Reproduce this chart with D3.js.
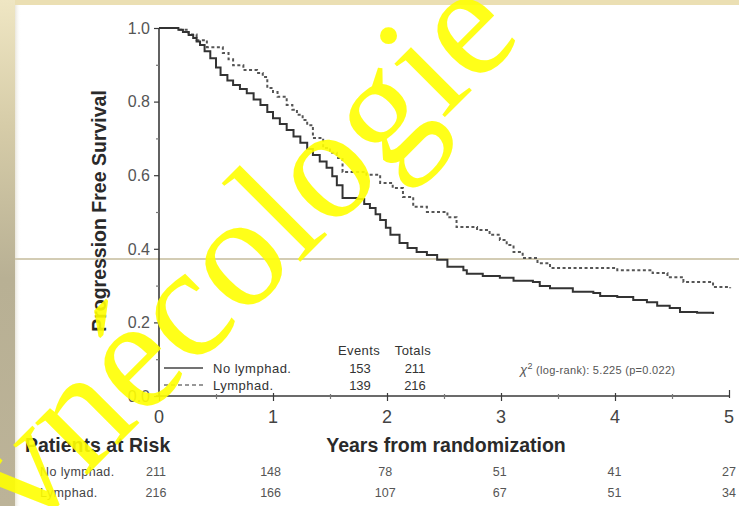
<!DOCTYPE html>
<html>
<head>
<meta charset="utf-8">
<script src="https://cdn.jsdelivr.net/npm/d3@7"></script>
<style>
  html, body { margin: 0; padding: 0; background: #ffffff; }
  svg { display: block; }
  text { font-family: "Liberation Sans", Arial, sans-serif; }
</style>
</head>
<body>
<svg id="chart" width="739" height="506"></svg>
<script>
// ---------- data ----------
const seriesNames = ["No lymphad.", "Lymphad."];
const events = [153, 139];
const totals = [211, 216];

// Kaplan-Meier step points: [years, survival]
const noLymphadTimes = [0, 0.12, 0.17, 0.21, 0.26, 0.30, 0.33, 0.36, 0.40, 0.45, 0.50, 0.54, 0.60, 0.65, 0.71, 0.77, 0.83, 0.89, 0.95, 1.00, 1.06, 1.12, 1.18, 1.24, 1.30, 1.35, 1.41, 1.47, 1.52, 1.56, 1.61, 1.74, 1.80, 1.85, 1.90, 1.94, 1.99, 2.03, 2.11, 2.18, 2.26, 2.35, 2.44, 2.53, 2.67, 2.70, 2.84, 2.99, 3.11, 3.28, 3.34, 3.43, 3.63, 3.81, 3.87, 4.02, 4.16, 4.28, 4.37, 4.48, 4.57, 4.72, 4.86];
const noLymphadSurv  = [1.0, 1.0, 0.995, 0.989, 0.981, 0.973, 0.963, 0.954, 0.937, 0.918, 0.893, 0.872, 0.857, 0.845, 0.834, 0.823, 0.806, 0.791, 0.772, 0.755, 0.739, 0.723, 0.705, 0.688, 0.671, 0.655, 0.637, 0.620, 0.597, 0.573, 0.538, 0.535, 0.522, 0.511, 0.494, 0.478, 0.457, 0.438, 0.416, 0.402, 0.391, 0.383, 0.370, 0.351, 0.342, 0.332, 0.326, 0.321, 0.313, 0.310, 0.299, 0.293, 0.283, 0.280, 0.272, 0.269, 0.261, 0.255, 0.245, 0.239, 0.228, 0.226, 0.223];

const lymphadTimes = [0, 0.18, 0.26, 0.33, 0.42, 0.56, 0.61, 0.65, 0.74, 0.86, 0.91, 0.95, 1.00, 1.04, 1.12, 1.17, 1.21, 1.26, 1.30, 1.35, 1.44, 1.50, 1.56, 1.61, 1.82, 1.94, 2.05, 2.14, 2.23, 2.35, 2.53, 2.61, 2.79, 2.90, 2.99, 3.05, 3.11, 3.19, 3.32, 3.43, 4.02, 4.33, 4.46, 4.60, 4.86, 5.01];
const lymphadSurv  = [1.0, 0.995, 0.982, 0.967, 0.948, 0.932, 0.915, 0.899, 0.886, 0.878, 0.867, 0.837, 0.826, 0.813, 0.791, 0.778, 0.764, 0.750, 0.736, 0.701, 0.674, 0.661, 0.647, 0.609, 0.601, 0.579, 0.565, 0.541, 0.514, 0.500, 0.486, 0.459, 0.451, 0.438, 0.424, 0.410, 0.391, 0.375, 0.361, 0.348, 0.342, 0.334, 0.323, 0.310, 0.296, 0.293];

const yTicks = [0, 0.2, 0.4, 0.6, 0.8, 1.0];
const yTickLabels = ["0.0", "0.2", "0.4", "0.6", "0.8", "1.0"];
const xTicks = [0, 1, 2, 3, 4, 5];
const xTickLabels = ["0", "1", "2", "3", "4", "5"];

const riskYears = [0, 1, 2, 3, 4, 5];
const riskNoLymphad = [211, 148, 78, 51, 41, 27];
const riskLymphad = [216, 166, 107, 67, 51, 34];

const yTitle = "Progression Free Survival";
const xTitle = "Years from randomization";
const riskTitle = "Patients at Risk";
const watermark = "vnécologie";

// ---------- drawing ----------
const svg = d3.select("#chart");

// slide frame
const defs = svg.append("defs");
const grad = defs.append("linearGradient").attr("id", "leftStrip")
  .attr("x1", 0).attr("y1", 0).attr("x2", 0).attr("y2", 1);
grad.append("stop").attr("offset", "0%").attr("stop-color", "#efe6c3");
grad.append("stop").attr("offset", "25%").attr("stop-color", "#d6cca8");
grad.append("stop").attr("offset", "55%").attr("stop-color", "#b8b094");
grad.append("stop").attr("offset", "100%").attr("stop-color", "#bcb398");
const gradH = defs.append("linearGradient").attr("id", "edgeShade")
  .attr("x1", 0).attr("y1", 0).attr("x2", 1).attr("y2", 0);
gradH.append("stop").attr("offset", "0%").attr("stop-color", "#e9e6dc");
gradH.append("stop").attr("offset", "100%").attr("stop-color", "#ffffff").attr("stop-opacity", 0);

svg.append("rect").attr("x", 0).attr("y", 0).attr("width", 739).attr("height", 506).attr("fill", "#ffffff");
svg.append("rect").attr("x", 15).attr("y", 0).attr("width", 6).attr("height", 506).attr("fill", "url(#edgeShade)");
svg.append("rect").attr("x", 0).attr("y", 0).attr("width", 739).attr("height", 5).attr("fill", "#ebdfb3");
svg.append("rect").attr("x", 0).attr("y", 0).attr("width", 15).attr("height", 506).attr("fill", "url(#leftStrip)");
svg.append("line").attr("x1", 15).attr("x2", 739).attr("y1", 259).attr("y2", 259)
  .attr("stroke", "#d3ccb4").attr("stroke-width", 2);

// scales
const x = d3.scaleLinear().domain([0, 5]).range([159, 729]);
const y = d3.scaleLinear().domain([0, 1]).range([396, 28]);

const axisColor = "#3a3a3a";
const labelColor = "#555555";

// y axis
const yAxis = svg.append("g").attr("transform", `translate(${x(0)},0)`)
  .call(d3.axisLeft(y).tickValues(d3.range(0, 1.0001, 0.1)).tickSize(3).tickFormat(""));
yAxis.select(".domain").attr("stroke", axisColor).attr("stroke-width", 1.6).attr("d", `M0,${y(1)}V${y(0)}`);
yAxis.selectAll(".tick line").attr("stroke", "#777").attr("stroke-width", 1.2);
yAxis.selectAll(".tick").filter(d => yTicks.some(t => Math.abs(t - d) < 1e-6)).select("line").attr("x2", -5).attr("stroke", axisColor);

svg.append("g").selectAll("text").data(yTicks).join("text")
  .attr("x", 150).attr("y", d => y(d)).attr("dy", "0.36em")
  .attr("text-anchor", "end").attr("font-size", 16).attr("fill", labelColor)
  .text((d, i) => yTickLabels[i]);

// x axis
const xAxis = svg.append("g").attr("transform", `translate(0,${y(0)})`)
  .call(d3.axisBottom(x).tickValues(d3.range(0, 5.0001, 0.5)).tickSize(3).tickFormat(""));
xAxis.select(".domain").attr("stroke", axisColor).attr("stroke-width", 1.6).attr("d", `M${x(0) - 3},0H${x(5)}`);
xAxis.selectAll(".tick line").attr("stroke", "#777").attr("stroke-width", 1.2).attr("y1", -2);
xAxis.selectAll(".tick").filter(d => Number.isInteger(d)).select("line").attr("y1", -3).attr("y2", 5).attr("stroke", axisColor);
xAxis.selectAll(".tick").filter(d => d === 5).select("line").attr("y1", -6).attr("y2", 2);

svg.append("g").selectAll("text").data(xTicks).join("text")
  .attr("x", d => x(d)).attr("y", 423)
  .attr("text-anchor", "middle").attr("font-size", 18).attr("fill", "#444")
  .text((d, i) => xTickLabels[i]);

// titles
svg.append("text").attr("transform", "translate(106,211) rotate(-90)")
  .attr("text-anchor", "middle").attr("font-size", 19.5).attr("font-weight", "bold").attr("fill", "#2a2a2a")
  .text(yTitle);
svg.append("text").attr("x", 446).attr("y", 452)
  .attr("text-anchor", "middle").attr("font-size", 19.5).attr("font-weight", "bold").attr("fill", "#2a2a2a")
  .text(xTitle);
svg.append("text").attr("x", 25).attr("y", 452)
  .attr("font-size", 19.5).attr("font-weight", "bold").attr("fill", "#2a2a2a")
  .text(riskTitle);

// curves
const line = d3.line().x(d => x(d[0])).y(d => y(d[1])).curve(d3.curveStepAfter);
const noLymphadData = noLymphadTimes.map((t, i) => [t, noLymphadSurv[i]]);
const lymphadData = lymphadTimes.map((t, i) => [t, lymphadSurv[i]]);

svg.append("path").datum(lymphadData).attr("d", line)
  .attr("fill", "none").attr("stroke", "#555").attr("stroke-width", 2).attr("stroke-dasharray", "3,2.5");
svg.append("path").datum(noLymphadData).attr("d", line)
  .attr("fill", "none").attr("stroke", "#333").attr("stroke-width", 2);

// legend
const legendRows = [368, 385];
const leg = svg.append("g");
leg.selectAll("line").data(seriesNames).join("line")
  .attr("x1", 164).attr("x2", 203)
  .attr("y1", (d, i) => legendRows[i]).attr("y2", (d, i) => legendRows[i])
  .attr("stroke", (d, i) => i === 0 ? "#444" : "#777").attr("stroke-width", 1.3)
  .attr("stroke-dasharray", (d, i) => i === 0 ? null : "4,3");
leg.selectAll("text.name").data(seriesNames).join("text").attr("class", "name")
  .attr("x", 213).attr("y", (d, i) => legendRows[i] + 5)
  .attr("font-size", 13).attr("letter-spacing", 0.5).attr("fill", "#333").text(d => d);
leg.append("text").attr("x", 359).attr("y", 355).attr("text-anchor", "middle")
  .attr("font-size", 13).attr("letter-spacing", 0.4).attr("fill", "#333").text("Events");
leg.append("text").attr("x", 413).attr("y", 355).attr("text-anchor", "middle")
  .attr("font-size", 13).attr("letter-spacing", 0.4).attr("fill", "#333").text("Totals");
leg.selectAll("text.ev").data(events).join("text").attr("class", "ev")
  .attr("x", 360).attr("y", (d, i) => legendRows[i] + 5).attr("text-anchor", "middle")
  .attr("font-size", 13).attr("fill", "#333").text(d => d);
leg.selectAll("text.tot").data(totals).join("text").attr("class", "tot")
  .attr("x", 415).attr("y", (d, i) => legendRows[i] + 5).attr("text-anchor", "middle")
  .attr("font-size", 13).attr("fill", "#333").text(d => d);

const chi = svg.append("text").attr("x", 520).attr("y", 374)
  .attr("font-size", 11).attr("letter-spacing", 0.3).attr("fill", "#555");
chi.append("tspan").attr("font-style", "italic").attr("font-size", 13).text("χ");
chi.append("tspan").attr("dy", -5).attr("font-size", 9).text("2");
chi.append("tspan").attr("dy", 5).text(" (log-rank): 5.225 (p=0.022)");

// patients at risk table
const riskRows = [
  { name: seriesNames[0], values: riskNoLymphad, y: 476 },
  { name: seriesNames[1], values: riskLymphad, y: 497 }
];
const riskG = svg.append("g");
riskRows.forEach(r => {
  riskG.append("text").attr("x", 40).attr("y", r.y)
    .attr("font-size", 12.5).attr("letter-spacing", 0.4).attr("fill", "#444").text(r.name);
  riskG.append("g").selectAll("text").data(r.values).join("text")
    .attr("x", (d, i) => x(riskYears[i]) - 3 + i * 0.6).attr("y", r.y)
    .attr("text-anchor", "middle").attr("font-size", 12.5).attr("fill", "#555").text(d => d);
});

// watermark (part of the photographed slide)
svg.append("text").attr("transform", "translate(276,286) rotate(-45)")
  .attr("text-anchor", "middle")
  .style("font-family", "'Liberation Serif', 'Times New Roman', serif")
  .attr("font-size", 160).attr("fill", "#ffff00").attr("fill-opacity", 0.9)
  .text(watermark);
</script>
</body>
</html>
